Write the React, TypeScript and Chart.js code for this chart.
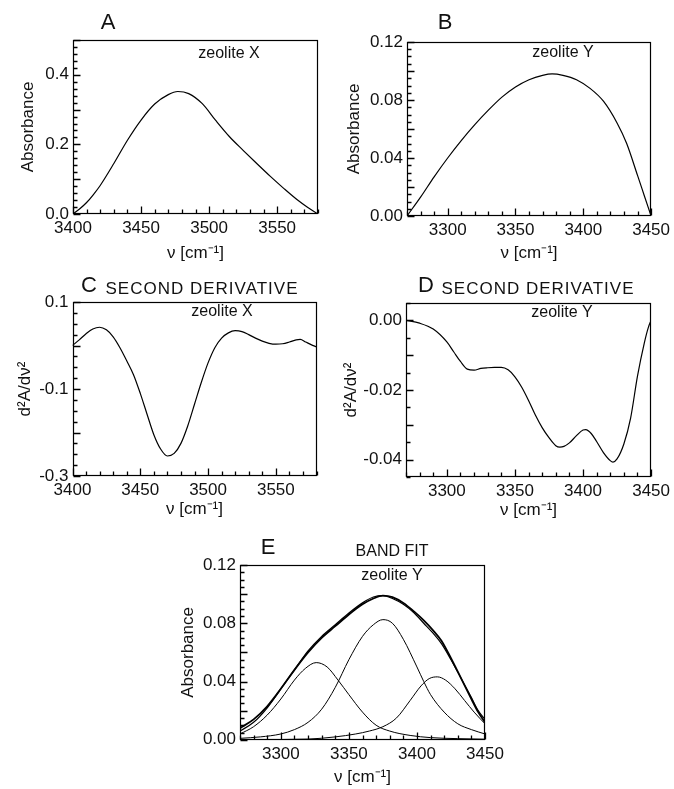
import React, { useEffect, useRef } from "react";
import { Chart, registerables } from "chart.js";

Chart.register(...registerables);

const W = 674;
const H = 789;
const FONT = "'Liberation Sans', Arial, Helvetica, sans-serif";

// ---------- Panel A: zeolite X absorbance ----------
const waveA = [3400, 3405, 3410, 3415, 3420, 3430, 3440, 3450, 3460, 3470, 3477, 3485, 3495, 3505, 3515, 3525, 3535, 3545, 3555, 3565, 3572, 3580];
const absA = [0, 0.015, 0.033, 0.056, 0.082, 0.145, 0.212, 0.27, 0.316, 0.343, 0.352, 0.346, 0.317, 0.268, 0.222, 0.183, 0.145, 0.108, 0.073, 0.04, 0.02, 0];
const xTicksA = [3400, 3450, 3500, 3550];
const yTicksA = [0, 0.2, 0.4];

// ---------- Panel B: zeolite Y absorbance ----------
const waveB = [3270, 3280, 3290, 3300, 3310, 3320, 3330, 3340, 3350, 3360, 3370, 3377, 3385, 3395, 3405, 3415, 3425, 3432, 3440, 3445, 3450];
const absB = [0, 0.013, 0.027, 0.04, 0.052, 0.063, 0.073, 0.082, 0.089, 0.094, 0.097, 0.098, 0.097, 0.094, 0.088, 0.079, 0.064, 0.05, 0.028, 0.014, 0];
const xTicksB = [3300, 3350, 3400, 3450];
const yTicksB = [0, 0.04, 0.08, 0.12];

// ---------- Panel C: second derivative, zeolite X ----------
const waveC = [3400, 3405, 3410, 3415, 3420, 3425, 3430, 3435, 3440, 3445, 3450, 3455, 3460, 3465, 3470, 3475, 3480, 3485, 3490, 3495, 3500, 3505, 3510, 3515, 3520, 3525, 3530, 3535, 3540, 3545, 3550, 3555, 3560, 3565, 3568, 3572, 3576, 3580];
const derC = [0, 0.013, 0.027, 0.038, 0.042, 0.036, 0.02, -0.005, -0.035, -0.067, -0.11, -0.158, -0.205, -0.238, -0.254, -0.248, -0.225, -0.185, -0.135, -0.085, -0.04, -0.005, 0.017, 0.029, 0.034, 0.032, 0.025, 0.017, 0.01, 0.005, 0.003, 0.004, 0.008, 0.013, 0.014, 0.008, 0.002, -0.003];
const xTicksC = [3400, 3450, 3500, 3550];
const yTicksC = [0.1, -0.1, -0.3];

// ---------- Panel D: second derivative, zeolite Y ----------
const waveD = [3270, 3280, 3290, 3300, 3305, 3310, 3315, 3320, 3325, 3330, 3335, 3340, 3345, 3350, 3355, 3360, 3365, 3370, 3375, 3380, 3383, 3386, 3390, 3395, 3400, 3402, 3406, 3410, 3415, 3420, 3422, 3425, 3430, 3435, 3440, 3445, 3448, 3450];
const derD = [0, -0.0008, -0.0025, -0.0062, -0.009, -0.0118, -0.014, -0.0143, -0.0138, -0.0136, -0.0135, -0.0135, -0.0142, -0.0162, -0.0192, -0.023, -0.0272, -0.0308, -0.0337, -0.036, -0.0364, -0.0362, -0.0352, -0.0332, -0.0315, -0.0314, -0.0325, -0.0348, -0.038, -0.0403, -0.0407, -0.0398, -0.0355, -0.028, -0.016, -0.0065, -0.002, 0];
const xTicksD = [3300, 3350, 3400, 3450];
const yTicksD = [0, -0.02, -0.04];

// ---------- Panel E: band fit, zeolite Y ----------
const waveEObs = [3270, 3280, 3290, 3300, 3310, 3320, 3330, 3340, 3350, 3360, 3368, 3375, 3382, 3390, 3398, 3405, 3412, 3418, 3425, 3432, 3440, 3445, 3450];
const absEObs = [0.008, 0.014, 0.023, 0.035, 0.048, 0.06, 0.07, 0.078, 0.086, 0.093, 0.097, 0.099, 0.098, 0.094, 0.088, 0.082, 0.075, 0.068, 0.056, 0.043, 0.028, 0.019, 0.012];
const absEFit = [0.006, 0.012, 0.022, 0.035, 0.048, 0.061, 0.071, 0.079, 0.087, 0.094, 0.098, 0.099, 0.097, 0.093, 0.087, 0.08, 0.073, 0.066, 0.055, 0.043, 0.029, 0.02, 0.014];
const waveE1 = [3270, 3280, 3290, 3300, 3310, 3318, 3326, 3334, 3342, 3350, 3360, 3370, 3380, 3395, 3410, 3430, 3450];
const bandE1 = [0.004, 0.009, 0.017, 0.028, 0.041, 0.049, 0.053, 0.05, 0.041, 0.031, 0.019, 0.01, 0.006, 0.003, 0.0015, 0.0008, 0.0004];
const waveE2 = [3270, 3285, 3300, 3310, 3320, 3330, 3340, 3350, 3360, 3368, 3375, 3382, 3390, 3400, 3405, 3410, 3420, 3430, 3440, 3450];
const bandE2 = [0.001, 0.002, 0.004, 0.007, 0.012, 0.021, 0.036, 0.055, 0.071, 0.079, 0.0825, 0.08, 0.069, 0.05, 0.04, 0.031, 0.019, 0.011, 0.007, 0.004];
const waveE3 = [3270, 3320, 3340, 3355, 3365, 3375, 3385, 3395, 3403, 3409, 3415, 3421, 3428, 3435, 3442, 3450];
const bandE3 = [0, 0.0005, 0.002, 0.004, 0.006, 0.009, 0.015, 0.027, 0.037, 0.042, 0.0432, 0.041, 0.035, 0.027, 0.019, 0.011];
const xTicksE = [3300, 3350, 3400, 3450];
const yTicksE = [0, 0.04, 0.08, 0.12];

const X_TITLE = "ν [cm⁻¹]";

type Series = { x: number[]; y: number[]; w: number };
type Txt = { t: string; x: number; y: number; size: number; ls?: number };
type PanelCfg = {
  area: { l: number; t: number; r: number; b: number };
  xMin: number; xMax: number; yMin: number; yMax: number;
  xTicks: number[]; yTicks: number[]; yDec: number;
  xMinor: number; xMajor: number; yMinor: number; yMajor: number;
  yTitle: string; yTitleX: number; xTitleOff: number;
  series: Series[];
  texts: Txt[];
};

const panels: PanelCfg[] = [
  {
    area: { l: 73, t: 40, r: 318, b: 214 },
    xMin: 3400, xMax: 3580, yMin: 0, yMax: 0.5,
    xTicks: xTicksA, yTicks: yTicksA, yDec: 1,
    xMinor: 10, xMajor: 50, yMinor: 0.02, yMajor: 0.1,
    yTitle: "Absorbance", yTitleX: 28, xTitleOff: 39,
    series: [{ x: waveA, y: absA, w: 1.2 }],
    texts: [
      { t: "A", x: 108, y: 23, size: 22 },
      { t: "zeolite X", x: 229, y: 54, size: 16 },
    ],
  },
  {
    area: { l: 407, t: 42, r: 654, b: 216 },
    xMin: 3270, xMax: 3450, yMin: 0, yMax: 0.12,
    xTicks: xTicksB, yTicks: yTicksB, yDec: 2,
    xMinor: 10, xMajor: 50, yMinor: 0.005, yMajor: 0.02,
    yTitle: "Absorbance", yTitleX: 354, xTitleOff: 37,
    series: [{ x: waveB, y: absB, w: 1.2 }],
    texts: [
      { t: "B", x: 445, y: 23, size: 22 },
      { t: "zeolite Y", x: 563, y: 53, size: 16 },
    ],
  },
  {
    area: { l: 72.5, t: 302, r: 316.5, b: 476 },
    xMin: 3400, xMax: 3580, yMin: -0.3, yMax: 0.1,
    xTicks: xTicksC, yTicks: yTicksC, yDec: 1,
    xMinor: 10, xMajor: 50, yMinor: 0.025, yMajor: 0.1,
    yTitle: "d²A/dν²", yTitleX: 25, xTitleOff: 33,
    series: [{ x: waveC, y: derC, w: 1.2 }],
    texts: [
      { t: "C", x: 89, y: 286, size: 22 },
      { t: "SECOND DERIVATIVE", x: 202, y: 289, size: 17, ls: 1 },
      { t: "zeolite X", x: 222, y: 312, size: 16 },
    ],
  },
  {
    area: { l: 406, t: 303, r: 653, b: 477 },
    xMin: 3270, xMax: 3450, yMin: -0.045, yMax: 0.005,
    xTicks: xTicksD, yTicks: yTicksD, yDec: 2,
    xMinor: 10, xMajor: 50, yMinor: 0.005, yMajor: 0.01,
    yTitle: "d²A/dν²", yTitleX: 351, xTitleOff: 33,
    series: [{ x: waveD, y: derD, w: 1.2 }],
    texts: [
      { t: "D", x: 426, y: 286, size: 22 },
      { t: "SECOND DERIVATIVE", x: 538, y: 289, size: 17, ls: 1 },
      { t: "zeolite Y", x: 562, y: 313, size: 16 },
    ],
  },
  {
    area: { l: 240, t: 565, r: 485, b: 740 },
    xMin: 3270, xMax: 3450, yMin: 0, yMax: 0.12,
    xTicks: xTicksE, yTicks: yTicksE, yDec: 2,
    xMinor: 10, xMajor: 50, yMinor: 0.005, yMajor: 0.02,
    yTitle: "Absorbance", yTitleX: 188, xTitleOff: 38,
    series: [
      { x: waveEObs, y: absEObs, w: 1.8 },
      { x: waveEObs, y: absEFit, w: 1.2 },
      { x: waveE1, y: bandE1, w: 1 },
      { x: waveE2, y: bandE2, w: 1 },
      { x: waveE3, y: bandE3, w: 1 },
    ],
    texts: [
      { t: "E", x: 268, y: 548, size: 22 },
      { t: "BAND FIT", x: 392, y: 552, size: 16 },
      { t: "zeolite Y", x: 392, y: 576, size: 16 },
    ],
  },
];

function makeDeco(cfg: PanelCfg) {
  return {
    id: "panelDeco",
    afterDraw(chart: any) {
      const { ctx, chartArea: a, scales } = chart;
      const xs = scales.x;
      const ys = scales.y;
      ctx.save();
      ctx.strokeStyle = "#000";
      ctx.lineWidth = 1.2;
      const L = Math.round(a.left) + 0.5;
      const T = Math.round(a.top) + 0.5;
      const R = Math.round(a.right) - 0.5;
      const B = Math.round(a.bottom) - 0.5;
      ctx.strokeRect(L, T, R - L, B - T);

      const isMult = (v: number, m: number) => Math.abs(v / m - Math.round(v / m)) < 1e-6;
      ctx.lineWidth = 1.3;
      ctx.beginPath();
      // x ticks, pointing inward from the bottom edge
      {
        const step = cfg.xMinor;
        const start = Math.ceil(cfg.xMin / step - 1e-6);
        const end = Math.floor(cfg.xMax / step + 1e-6);
        for (let i = start; i <= end; i++) {
          const v = i * step;
          const px = Math.round(xs.getPixelForValue(v)) + 0.5;
          const len = isMult(v, cfg.xMajor) ? 7 : 4;
          ctx.moveTo(px, B);
          ctx.lineTo(px, B - len);
        }
      }
      // y ticks, pointing inward from the left edge
      {
        const step = cfg.yMinor;
        const start = Math.ceil(cfg.yMin / step - 1e-6);
        const end = Math.floor(cfg.yMax / step + 1e-6);
        for (let i = start; i <= end; i++) {
          const v = i * step;
          const py = Math.round(ys.getPixelForValue(v)) + 0.5;
          const len = isMult(v, cfg.yMajor) ? 7 : 4;
          ctx.moveTo(L, py);
          ctx.lineTo(L + len, py);
        }
      }
      ctx.stroke();

      // annotations
      ctx.fillStyle = "#111";
      ctx.textAlign = "center";
      ctx.textBaseline = "middle";
      for (const t of cfg.texts) {
        ctx.font = `${t.size}px ${FONT}`;
        (ctx as any).letterSpacing = `${t.ls || 0}px`;
        ctx.fillText(t.t, t.x, t.y);
      }
      ctx.restore();
    },
  };
}

function buildConfig(p: PanelCfg): any {
  const fs = 17;
  const lh = fs * 1.2;
  const yW = p.area.l - (p.yTitleX - lh / 2 - 1);
  const padL = p.area.l - yW;
  const xH = p.xTitleOff + lh / 2 + 1;
  const padB = Math.max(0, H - p.area.b - xH);
  return {
    type: "line",
    data: {
      datasets: p.series.map((s) => ({
        data: s.x.map((x, i) => ({ x, y: s.y[i] })),
        borderColor: "#000",
        borderWidth: s.w,
        pointRadius: 0,
        fill: false,
        cubicInterpolationMode: "monotone",
      })),
    },
    options: {
      animation: false,
      responsive: false,
      maintainAspectRatio: false,
      devicePixelRatio: 1,
      events: [],
      layout: {
        padding: { left: padL, top: p.area.t, right: W - p.area.r, bottom: padB },
      },
      plugins: {
        legend: { display: false },
        tooltip: { enabled: false },
      },
      scales: {
        x: {
          type: "linear",
          min: p.xMin,
          max: p.xMax,
          afterFit: (s: any) => {
            s.height = xH;
          },
          afterBuildTicks: (s: any) => {
            s.ticks = p.xTicks.map((v) => ({ value: v }));
          },
          grid: { display: false, drawTicks: false, tickLength: 0 },
          border: { display: false },
          ticks: {
            padding: 4,
            maxRotation: 0,
            autoSkip: false,
            color: "#111",
            font: { size: fs, family: FONT },
            callback: (v: any) => String(v),
          },
          title: {
            display: true,
            text: X_TITLE,
            color: "#111",
            font: { size: fs, family: FONT },
            padding: { top: 0, bottom: 1 },
          },
        },
        y: {
          type: "linear",
          min: p.yMin,
          max: p.yMax,
          afterFit: (s: any) => {
            s.width = yW;
          },
          afterBuildTicks: (s: any) => {
            s.ticks = p.yTicks.map((v) => ({ value: v }));
          },
          grid: { display: false, drawTicks: false, tickLength: 0 },
          border: { display: false },
          ticks: {
            padding: 4,
            autoSkip: false,
            color: "#111",
            font: { size: fs, family: FONT },
            callback: (v: any) => Number(v).toFixed(p.yDec),
          },
          title: {
            display: true,
            text: p.yTitle,
            color: "#111",
            font: { size: fs, family: FONT },
            padding: { top: 1, bottom: 0 },
          },
        },
      },
    },
    plugins: [makeDeco(p)],
  };
}

function Panel({ cfg }: { cfg: PanelCfg }) {
  const ref = useRef<HTMLCanvasElement>(null);
  useEffect(() => {
    const chart = new Chart(ref.current as HTMLCanvasElement, buildConfig(cfg));
    return () => chart.destroy();
  }, [cfg]);
  return (
    <canvas
      ref={ref}
      width={W}
      height={H}
      style={{ position: "absolute", left: 0, top: 0, width: W, height: H }}
    />
  );
}

export default function App() {
  return (
    <div
      style={{
        position: "absolute",
        left: 0,
        top: 0,
        width: W,
        height: H,
        background: "#fff",
        overflow: "hidden",
      }}
    >
      {panels.map((p, i) => (
        <Panel key={i} cfg={p} />
      ))}
    </div>
  );
}
